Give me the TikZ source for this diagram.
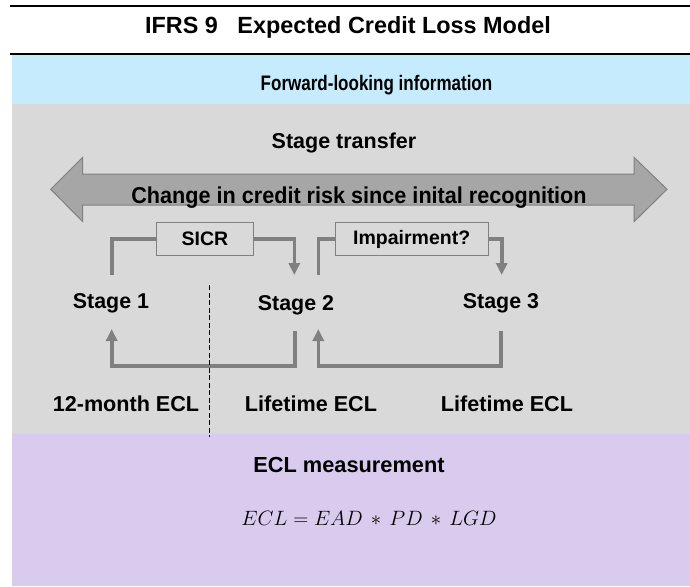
\documentclass[tikz,border=0pt]{standalone}
\usepackage{fontspec}
\usepackage{graphicx}
\setmainfont{Liberation Sans}
\usetikzlibrary{arrows.meta}
\definecolor{bandblue}{RGB}{197,235,252}
\definecolor{bandgray}{RGB}{217,217,217}
\definecolor{bandpurple}{RGB}{217,203,238}
\definecolor{arrowfill}{RGB}{166,166,166}
\definecolor{linegray}{RGB}{128,128,128}
\tikzset{
  lbl/.style={anchor=base, inner sep=0pt, font=\bfseries\fontsize{#1}{#1}\selectfont},
  gbox/.style={draw=linegray, line width=1pt, fill=bandgray, minimum height=33.4pt, inner sep=0pt, font=\bfseries\fontsize{19.5}{19.5}\selectfont},
  conn/.style={draw=linegray, line width=3.6pt},
  conntip/.style={conn, -{Triangle[width=11pt,length=12pt]}},
}
\begin{document}
\begin{tikzpicture}[x=1pt,y=-1pt]
\useasboundingbox (0,0) rectangle (690,586);
% bands
\fill[bandblue] (12,54.5) rectangle (690,103.7);
\fill[bandgray] (12,103.7) rectangle (690,433.7);
\fill[bandpurple] (12,433.7) rectangle (690,586);
\draw[line width=2.2pt] (10,5.7) -- (690,5.7);
\draw[line width=2.2pt] (10,53.7) -- (690,53.7);
% texts
\node[lbl=23.4] (title) at (348,33.4) {IFRS 9~~~Expected Credit Loss Model};
\node[lbl=21] (fwd) at (376.5,90) {\scalebox{0.81}[1]{Forward-looking information}};
\node[lbl=21.5] (st) at (344,148.3) {Stage transfer};
% big double arrow
\filldraw[fill=arrowfill, draw=linegray, line width=1pt]
  (50.7,189.3) -- (82.7,157.3) -- (82.7,174) -- (634,174) -- (634,157.3)
  -- (667,189.3) -- (634,221.7) -- (634,205) -- (82.7,205) -- (82.7,221.7) -- cycle;
\node[lbl=23] (chg) at (359,203) {\scalebox{0.94}[1]{Change in credit risk since inital recognition}};
% boxes
\node[gbox, minimum width=96.6pt] (sicr) at (205,239) {SICR};
\node[gbox, minimum width=153.3pt] (imp) at (411.7,239) {Impairment?};
% stages
\node[lbl=21.4] (s1) at (111,308.5) {Stage 1};
\node[lbl=21.4] (s2) at (296,310.5) {Stage 2};
\node[lbl=21.4] (s3) at (501,308.5) {Stage 3};
% ECL labels
\node[lbl=21.6] (e1) at (126,411.7) {12-month ECL};
\node[lbl=21.6] (e2) at (311,411.7) {Lifetime ECL};
\node[lbl=21.6] (e3) at (507,411.7) {Lifetime ECL};
\node[lbl=21.8] (meas) at (349,472.7) {ECL measurement};
\node[anchor=base, inner sep=0pt, font=\fontsize{22.8}{27}\selectfont] (formula) at (369,525) {$ECL=EAD\,*\,PD\,*\,LGD$};
% connector end points
\coordinate (a1) at (112,275);
\coordinate (a2) at (294.3,275);
\coordinate (b1) at (318.5,275);
\coordinate (b2) at (501.7,275);
\coordinate (c1) at (295,331);
\coordinate (c2) at (111.7,329);
\coordinate (d1) at (501,331);
\coordinate (d2) at (318.3,329);
% upper connectors
\draw[conn] (a1) |- (sicr.west);
\draw[conntip] (sicr.east) -| (a2);
\draw[conn] (b1) |- (imp.west);
\draw[conntip] (imp.east) -| (b2);
% lower connectors
\draw[conntip] (c1) -- (295,366) -| (c2);
\draw[conntip] (d1) -- (501,366) -| (d2);
% dashed separator
\coordinate (dtop) at (209,285);
\coordinate (dbot) at (209,437);
\draw[line width=1pt, dash pattern=on 5pt off 2.5pt] (dtop) -- (dbot);
\end{tikzpicture}
\end{document}
